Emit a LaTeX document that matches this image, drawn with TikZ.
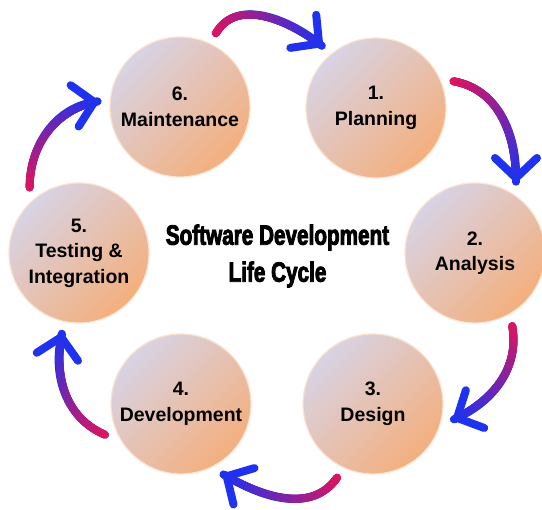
\documentclass[tikz,border=0pt]{standalone}
\usepackage{fontspec}
\usetikzlibrary{arrows.meta,decorations.markings}

\setmainfont{Liberation Sans}
\newfontfamily\titlefont{Liberation Sans}[FakeStretch=0.74,FakeBold=3]

\definecolor{discpale}{RGB}{216,211,228}
\definecolor{discpeach}{RGB}{244,175,125}
\definecolor{flowred}{RGB}{226,20,92}
\definecolor{flowblue}{RGB}{30,50,240}

\begin{document}
\begin{tikzpicture}[x=1pt, y=1pt,
  phase/.style={circle, minimum size=140pt, inner sep=0pt, outer sep=12pt,
    top color=discpale, bottom color=discpeach, shading angle=45,
    draw=discpeach!35, line width=1.2pt,
    align=center, font=\fontsize{19.5}{25.5}\selectfont\bfseries},
  flow/.style={flowblue, line width=8pt, line cap=round,
    -{Straight Barb[length=20pt, width=42pt, line width=8pt, round]},
    decoration={markings,
      mark=between positions 0 and 1 step 0.5pt with {
        \pgfmathsetmacro\flowmix{min(100,100*\pgfkeysvalueof{/pgf/decoration/mark info/distance from start}/\pgfdecoratedpathlength)}
        \fill[flowblue!\flowmix!flowred] (0,0) circle (4pt);}},
    postaction=decorate}]
  \fill[white] (0,0) rectangle (542,510);
  \useasboundingbox (0,0) rectangle (542,510);

  % the six phases round the ring
  \node[phase] (MAINT) at (180,403) {6.\\Maintenance};
  \node[phase] (PLAN) at (376,402) {1.\\Planning};
  \node[phase] (ANA) at (475,257) {2.\\Analysis};
  \node[phase] (DES) at (373,106) {3.\\Design};
  \node[phase] (DEV) at (181,106) {4.\\Development};
  \node[phase] (TEST) at (79,257) {5.\\Testing \&\\Integration};

  \node[font=\titlefont\bfseries\fontsize{28}{37}\selectfont, align=center] (Title) at (277.5,254)
    {Software Development\\Life Cycle};

  % curved arrows, red tail to blue head
  \path
  (MAINT.64) edge[flow, out=60, in=142] (PLAN.131)
  (PLAN.19) edge[flow, out=-10, in=90] (ANA.60)
  (ANA.-63) edge[flow, out=-80, in=26] (DES.-11)
  (DES.-116) edge[flow, out=235, in=330] (DEV.-59)
  (DEV.202) edge[flow, out=157, in=259] (TEST.258)
  (TEST.127) edge[flow, out=90, in=191] (MAINT.176);
\end{tikzpicture}
\end{document}
